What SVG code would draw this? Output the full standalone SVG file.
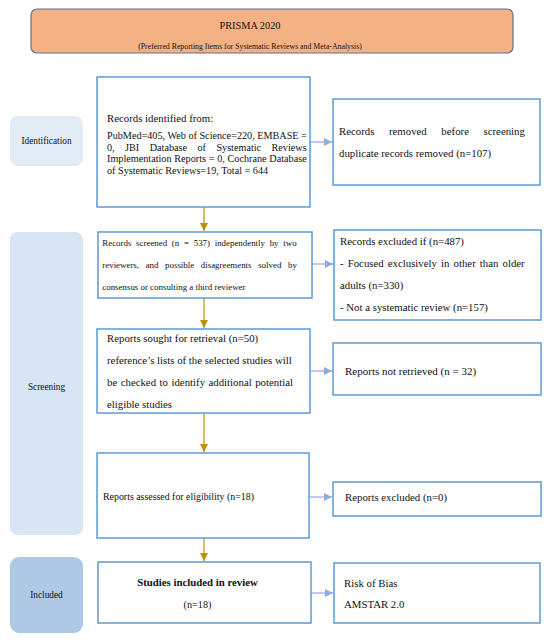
<svg xmlns="http://www.w3.org/2000/svg" width="550" height="640" viewBox="0 0 550 640">
<defs>
<style>
text{font-family:"Liberation Serif","Times New Roman",serif;fill:#111;font-size:10.8px}
.box{fill:#fff;stroke:#5b9bd5;stroke-width:1.5}
.gold{stroke:#bf9000;stroke-width:1.2;fill:none}
.blue{stroke:#8faadc;stroke-width:1.2;fill:none}
.lbl{font-size:9.3px}
.t1{font-size:10.3px}
.t2{font-size:7.8px}
.s10{font-size:10.2px}
.s9{font-size:8.9px}
.s99{font-size:9.9px}
.s11{font-size:11px}
</style>
<marker id="ag" viewBox="0 0 10 10" refX="10" refY="5" markerWidth="8" markerHeight="8" markerUnits="userSpaceOnUse" orient="auto"><path d="M0,0L10,5L0,10z" fill="#bf9000"/></marker>
<marker id="ab" viewBox="0 0 10 10" refX="10" refY="5" markerWidth="8" markerHeight="8" markerUnits="userSpaceOnUse" orient="auto"><path d="M0,0L10,5L0,10z" fill="#8faadc"/></marker>
</defs>
<rect width="550" height="640" fill="#fff"/>

<g id="header">
<rect x="31" y="9" width="482" height="44" rx="6" fill="#f4b183" stroke="#5f7392" stroke-width="1.2"/>
<text class="t1" x="250" y="29" text-anchor="middle">PRISMA 2020</text>
<text class="t2" x="250" y="49" text-anchor="middle">(Preferred Reporting Items for Systematic Reviews and Meta-Analysis)</text>
</g>

<g id="stage-identification">
<rect x="10" y="116" width="73" height="50" rx="8" fill="#e1ecf7"/>
<text class="lbl" x="46.5" y="144" text-anchor="middle">Identification</text>
</g>
<g id="stage-screening">
<rect x="10" y="232" width="73" height="303" rx="8" fill="#d7e5f4"/>
<text class="lbl" x="46.5" y="390" text-anchor="middle">Screening</text>
</g>
<g id="stage-included">
<rect x="10" y="557" width="73" height="76" rx="9" fill="#adc9e5"/>
<text class="lbl" x="46.5" y="598" text-anchor="middle">Included</text>
</g>

<g id="connectors">
<line class="gold" x1="204" y1="207" x2="204" y2="231" marker-end="url(#ag)"/>
<line class="gold" x1="204" y1="298" x2="204" y2="328" marker-end="url(#ag)"/>
<line class="gold" x1="204" y1="413" x2="204" y2="452" marker-end="url(#ag)"/>
<line class="gold" x1="204" y1="538" x2="204" y2="561" marker-end="url(#ag)"/>
<line class="blue" x1="310" y1="142" x2="332" y2="142" marker-end="url(#ab)"/>
<line class="blue" x1="312" y1="264" x2="333" y2="264" marker-end="url(#ab)"/>
<line class="blue" x1="310" y1="371" x2="332" y2="371" marker-end="url(#ab)"/>
<line class="blue" x1="310" y1="497" x2="332" y2="497" marker-end="url(#ab)"/>
<line class="blue" x1="311" y1="593" x2="333" y2="593" marker-end="url(#ab)"/>
</g>

<g id="records-identified">
<rect class="box" x="97" y="77" width="213" height="130"/>
<text x="107" y="122">Records identified from:</text>
<text class="s10" x="107" y="139">PubMed=405, Web of Science=220, EMBASE =</text>
<text class="s10" x="107" y="150.5" word-spacing="7.9">0, JBI Database of Systematic Reviews</text>
<text class="s10" x="107" y="162" word-spacing="0.2">Implementation Reports = 0, Cochrane Database</text>
<text class="s10" x="107" y="173.5">of Systematic Reviews=19, Total = 644</text>
</g>

<g id="records-removed">
<rect class="box" x="333" y="99" width="207" height="86"/>
<text x="339" y="135" word-spacing="11.9">Records removed before screening</text>
<text x="339" y="157">duplicate records removed (n=107)</text>
</g>

<g id="records-screened">
<rect class="box" x="98" y="232" width="214" height="66"/>
<text class="s9" x="102.3" y="246" word-spacing="2.5">Records screened (n = 537) independently by two</text>
<text class="s9" x="102.3" y="268" word-spacing="4.4">reviewers, and possible disagreements solved by</text>
<text class="s9" x="102.3" y="290">consensus or consulting a third reviewer</text>
</g>

<g id="records-excluded">
<rect class="box" x="334" y="230" width="207" height="90"/>
<text x="340" y="245">Records excluded if (n=487)</text>
<text x="340" y="267" word-spacing="1.4">- Focused exclusively in other than older</text>
<text x="340" y="289">adults (n=330)</text>
<text x="340" y="311">- Not a systematic review (n=157)</text>
</g>

<g id="reports-sought">
<rect class="box" x="97" y="329" width="213" height="84"/>
<text x="107" y="342">Reports sought for retrieval (n=50)</text>
<text x="107" y="364">reference’s lists of the selected studies will</text>
<text x="107" y="386" word-spacing="0.8">be checked to identify additional potential</text>
<text x="107" y="408">eligible studies</text>
</g>

<g id="reports-not-retrieved">
<rect class="box" x="333" y="343" width="208" height="52"/>
<text class="s11" x="345" y="375">Reports not retrieved  (n = 32)</text>
</g>

<g id="reports-assessed">
<rect class="box" x="97" y="453" width="212" height="85"/>
<text class="s99" x="103" y="500">Reports assessed for eligibility (n=18)</text>
</g>

<g id="reports-excluded">
<rect class="box" x="333" y="482" width="208" height="34"/>
<text x="345" y="501">Reports excluded (n=0)</text>
</g>

<g id="studies-included">
<rect class="box" x="98" y="562" width="213" height="61"/>
<text x="197.5" y="586" text-anchor="middle" font-weight="bold">Studies included in review</text>
<text class="s10" x="197.5" y="608" text-anchor="middle">(n=18)</text>
</g>

<g id="risk-of-bias">
<rect class="box" x="334" y="563" width="206" height="60"/>
<text x="344" y="587">Risk of Bias</text>
<text x="344" y="608">AMSTAR 2.0</text>
</g>
</svg>
